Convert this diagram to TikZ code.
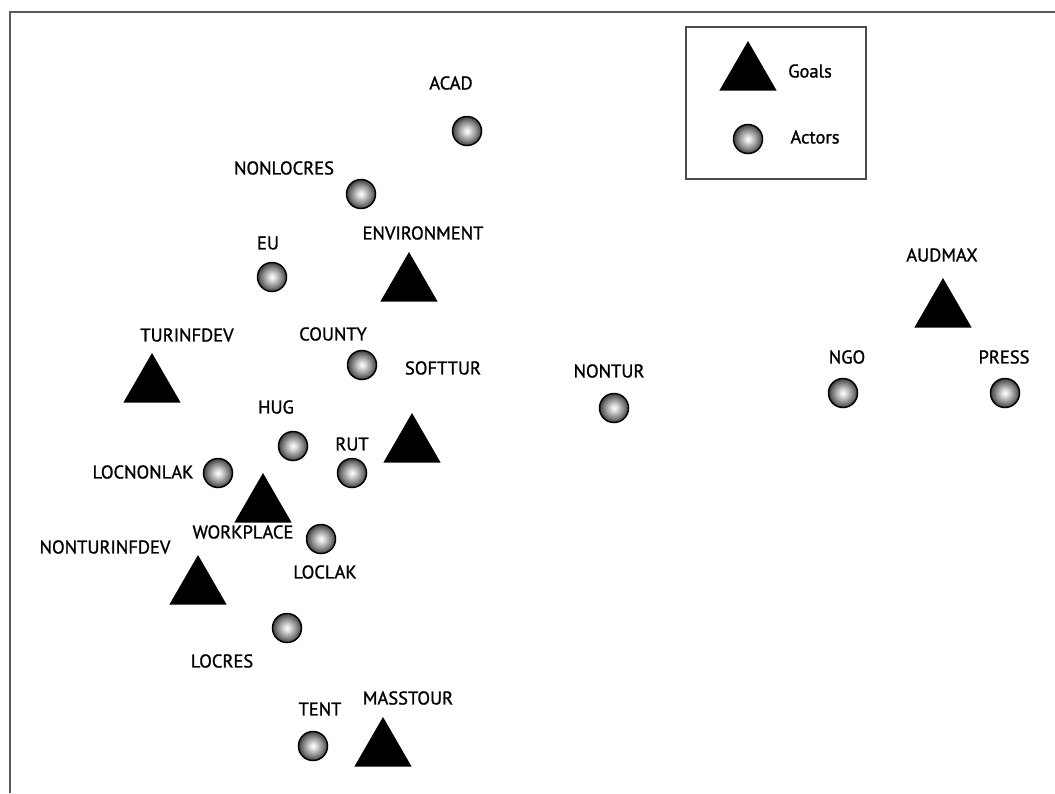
\documentclass[tikz,border=0pt]{standalone}
\usepackage{fontspec}
\setmainfont{PT Sans}
\newfontfamily\tagfont{PT Sans}[FakeBold=1.2]
\usetikzlibrary{shapes.geometric}
\pgfdeclareradialshading{actorball}{\pgfpoint{0bp}{0bp}}{color(0bp)=(white); color(5bp)=(black!12); color(16bp)=(black!45); color(25bp)=(black!75); color(50bp)=(black!75)}

\begin{document}
\begin{tikzpicture}[x=1pt,y=-1pt,
	actor/.style={circle,draw=black,line width=1.5pt,shade,shading=actorball,minimum size=29pt,inner sep=0pt},
	goal/.style={regular polygon,regular polygon sides=3,fill=black,minimum size=66pt,inner sep=0pt},
	tag/.style={font=\tagfont\fontsize{18.5}{18.5}\selectfont,inner sep=0pt}]
		\useasboundingbox (0,0) rectangle (1055,793);
		\draw [black!65,line width=2pt] (1055,12) -- (10,12) -- (10,793);

		\draw (776,103) node [draw=black!70,line width=1.5pt,minimum width=180pt,minimum height=152pt,inner sep=0pt] (legend){};
		\draw (748,74) node [goal] (keygoal){};
		\draw (748,139) node [actor] (keyactor){};
		\draw (810,71) node [tag] (keygoaltag){Goals};
		\draw (815,137) node [tag] (keyactortag){Actors};

		\draw (409,285) node [goal] (environment){};
		\draw (152,386) node [goal] (turinfdev){};
		\draw (412,446) node [goal] (softtur){};
		\draw (263,506) node [goal] (workplace){};
		\draw (198,588) node [goal] (nonturinfdev){};
		\draw (383,750) node [goal] (masstour){};
		\draw (943,311) node [goal] (audmax){};

		\draw (467,131) node [actor] (acad){};
		\draw (361,194) node [actor] (nonlocres){};
		\draw (272,277) node [actor] (eu){};
		\draw (362,365) node [actor] (county){};
		\draw (614,408) node [actor] (nontur){};
		\draw (843,393) node [actor] (ngo){};
		\draw (1005,393) node [actor] (press){};
		\draw (293,446) node [actor] (hug){};
		\draw (352,473) node [actor] (rut){};
		\draw (218,473) node [actor] (locnonlak){};
		\draw (321,539) node [actor] (loclak){};
		\draw (287,628) node [actor] (locres){};
		\draw (313,746) node [actor] (tent){};

		\draw (451,83) node [tag] (acadtag){ACAD};
		\draw (284,168) node [tag] (nonlocrestag){NONLOCRES};
		\draw (268,243) node [tag] (eutag){EU};
		\draw (423,233) node [tag] (environmenttag){ENVIRONMENT};
		\draw (187,335) node [tag] (turinfdevtag){TURINFDEV};
		\draw (333,334) node [tag] (countytag){COUNTY};
		\draw (443,368) node [tag] (softturtag){SOFTTUR};
		\draw (609,371) node [tag] (nonturtag){NONTUR};
		\draw (942,255) node [tag] (audmaxtag){AUDMAX};
		\draw (847,357) node [tag] (ngotag){NGO};
		\draw (1004,357) node [tag] (presstag){PRESS};
		\draw (276,407) node [tag] (hugtag){HUG};
		\draw (352,444) node [tag] (ruttag){RUT};
		\draw (143,472) node [tag] (locnonlaktag){LOCNONLAK};
		\draw (243,532) node [tag] (workplacetag){WORKPLACE};
		\draw (105,547) node [tag] (nonturinfdevtag){NONTURINFDEV};
		\draw (325,572) node [tag] (loclaktag){LOCLAK};
		\draw (222,661) node [tag] (locrestag){LOCRES};
		\draw (320,709) node [tag] (tenttag){TENT};
		\draw (408,698) node [tag] (masstourtag){MASSTOUR};
	\end{tikzpicture}
\end{document}
